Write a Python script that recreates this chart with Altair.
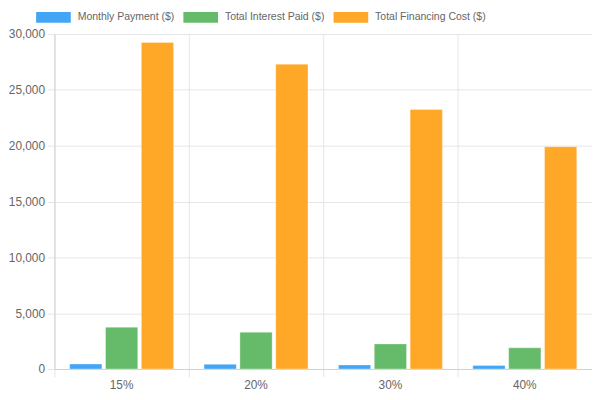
import altair as alt
import pandas as pd

# down payment options and the three loan figures for each
down_payments = ["15%", "20%", "30%", "40%"]
series_names = ["Monthly Payment ($)", "Total Interest Paid ($)", "Total Financing Cost ($)"]
monthly_payment = [450, 420, 365, 310]
total_interest = [3750, 3300, 2250, 1900]
total_financing = [29250, 27300, 23250, 19900]
y_ticks = [0, 5000, 10000, 15000, 20000, 25000, 30000]

colors = ["#42A5F5", "#66BB6A", "#FFA726"]

rows = []
for values, name in zip([monthly_payment, total_interest, total_financing], series_names):
    for cat, v in zip(down_payments, values):
        rows.append({"down": cat, "series": name, "value": v})
data = pd.DataFrame(rows)

W = 544
H = 339

bars = (
    alt.Chart(data)
    .mark_bar(stroke="white", strokeWidth=1, strokeOpacity=0.35)
    .encode(
        x=alt.X(
            "down:N",
            sort=down_payments,
            scale=alt.Scale(paddingInner=0, paddingOuter=0),
            axis=alt.Axis(
                title=None,
                bandPosition=0,
                labelAngle=0,
                grid=True,
                tickSize=8,
                labelPadding=3,
            ),
        ),
        xOffset=alt.XOffset(
            "series:N",
            sort=series_names,
            scale=alt.Scale(paddingInner=0.1, paddingOuter=0.425),
        ),
        y=alt.Y(
            "value:Q",
            scale=alt.Scale(domain=[0, 30000], nice=False),
            axis=alt.Axis(
                title=None,
                values=y_ticks,
                format=",.0f",
                tickSize=7,
                labelPadding=3,
            ),
        ),
        color=alt.Color(
            "series:N",
            sort=series_names,
            scale=alt.Scale(domain=series_names, range=colors),
            legend=alt.Legend(
                title=None,
                orient="none",
                direction="horizontal",
                legendX=-12,
                legendY=-28,
                symbolType="M-1.6,-0.5H1.6V0.5H-1.6Z",
                symbolSize=480,
                symbolStrokeWidth=0,
                symbolOpacity=1,
                labelOffset=13.5,
                columnPadding=8,
                padding=0,
                labelFont="Liberation Sans",
                labelFontSize=10.6,
            ),
        ),
    )
)

chart = bars.properties(
    width=W,
    height=H,
    autosize=alt.AutoSizeParams(type="none"),
    padding={"left": 47, "top": 24, "right": 0, "bottom": 28},
).configure_view(stroke=None).configure_axis(
    labelFont="Liberation Sans",
    labelFontSize=12,
    labelColor="#666666",
    gridColor="#e6e6e6",
    tickColor="#e6e6e6",
    domainColor="#d0d0d0",
).configure_legend(
    labelColor="#666666",
)

chart.save("out.html", embed_options={"renderer": "svg", "actions": False})
